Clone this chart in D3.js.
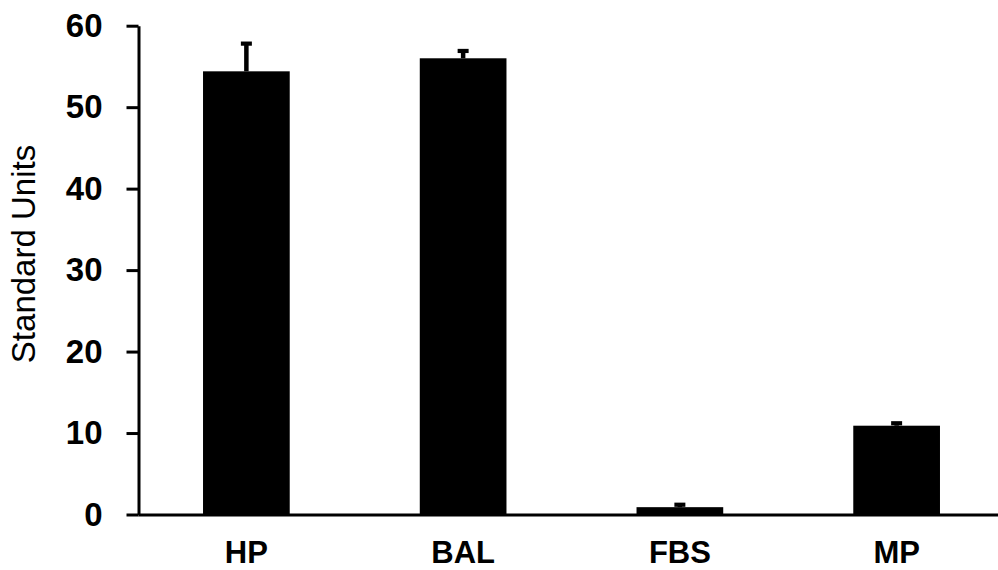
<!DOCTYPE html>
<html>
<head>
<meta charset="utf-8">
<script src="https://cdn.jsdelivr.net/npm/d3@7"></script>
<style>
  body { margin: 0; background: #fff; }
  svg { display: block; }
  text { font-family: "Liberation Sans", Arial, sans-serif; }
</style>
</head>
<body>
<div id="chart"></div>
<script>
var categories = ["HP", "BAL", "FBS", "MP"];
var values = [54.4, 56.0, 0.9, 10.9];
var errors = [3.4, 0.9, 0.3, 0.3];
var yTicks = [0, 10, 20, 30, 40, 50, 60];
var yTitle = "Standard Units";

function init() {
    var w = 998;
    var h = 570;

    var svg = d3.select("#chart")
        .append("svg")
        .attr("width", w)
        .attr("height", h);

    var xScale = d3.scaleBand()
        .domain(categories)
        .range([138, 1005])
        .paddingInner(0.6)
        .paddingOuter(0.3);

    var yScale = d3.scaleLinear()
        .domain([0, 60])
        .range([514.5, 25.7]);

    // bars
    svg.selectAll("rect.bar")
        .data(values)
        .enter()
        .append("rect")
        .attr("class", "bar")
        .attr("x", function(d, i) { return xScale(categories[i]); })
        .attr("y", function(d) { return yScale(d); })
        .attr("width", xScale.bandwidth())
        .attr("height", function(d) { return yScale(0) - yScale(d); })
        .attr("fill", "#000");

    // error bars (upper only)
    var err = svg.selectAll("g.err")
        .data(values)
        .enter()
        .append("g")
        .attr("class", "err");

    err.append("line")
        .attr("x1", function(d, i) { return xScale(categories[i]) + xScale.bandwidth() / 2; })
        .attr("x2", function(d, i) { return xScale(categories[i]) + xScale.bandwidth() / 2; })
        .attr("y1", function(d) { return yScale(d); })
        .attr("y2", function(d, i) { return yScale(d + errors[i]); })
        .attr("stroke", "#000")
        .attr("stroke-width", 4.5);

    err.append("line")
        .attr("x1", function(d, i) { return xScale(categories[i]) + xScale.bandwidth() / 2 - 5.5; })
        .attr("x2", function(d, i) { return xScale(categories[i]) + xScale.bandwidth() / 2 + 5.5; })
        .attr("y1", function(d, i) { return yScale(d + errors[i]); })
        .attr("y2", function(d, i) { return yScale(d + errors[i]); })
        .attr("stroke", "#000")
        .attr("stroke-width", 4.2);

    // x axis
    var xAxis = d3.axisBottom(xScale)
        .tickSize(0)
        .tickPadding(26);

    var gx = svg.append("g")
        .attr("transform", "translate(0," + yScale(0) + ")")
        .call(xAxis);
    gx.select(".domain")
        .attr("stroke", "#000")
        .attr("stroke-width", 3);
    gx.selectAll("text")
        .attr("fill", "#000")
        .attr("font-size", "31px")
        .attr("font-weight", "bold")
        .attr("dy", "0.71em");

    // y axis
    var yAxis = d3.axisLeft(yScale)
        .tickValues(yTicks)
        .tickSize(12)
        .tickSizeOuter(0)
        .tickPadding(24);

    var gy = svg.append("g")
        .attr("transform", "translate(138.5,0)")
        .call(yAxis);
    gy.select(".domain")
        .attr("stroke", "#000")
        .attr("stroke-width", 3);
    gy.selectAll(".tick line")
        .attr("stroke", "#000")
        .attr("stroke-width", 3);
    gy.selectAll("text")
        .attr("fill", "#000")
        .attr("font-size", "33px")
        .attr("font-weight", "bold");

    // y title
    svg.append("text")
        .attr("transform", "translate(35,254) rotate(-90)")
        .attr("text-anchor", "middle")
        .attr("font-size", "33px")
        .attr("fill", "#000")
        .text(yTitle);
}

window.onload = init;
</script>
</body>
</html>
